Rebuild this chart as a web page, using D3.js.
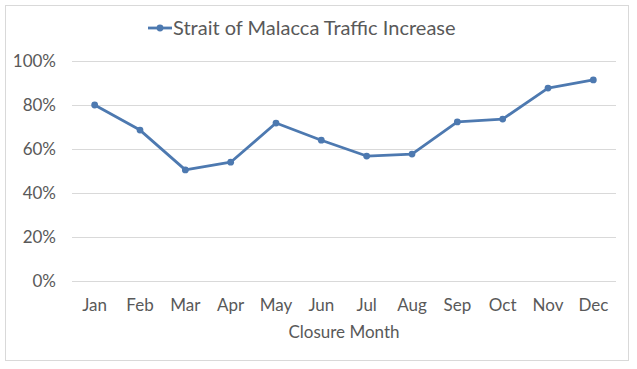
<!DOCTYPE html>
<html>
<head>
<meta charset="utf-8">
<script src="https://cdn.jsdelivr.net/npm/d3@7"></script>
<style>
  body { margin: 0; background: #fff; }
  text { font-family: Lato, "Open Sans", sans-serif; fill: #595959; }
</style>
</head>
<body>
<svg id="chart" width="637" height="369"></svg>
<script>
// data
const months = ['Jan', 'Feb', 'Mar', 'Apr', 'May', 'Jun', 'Jul', 'Aug', 'Sep', 'Oct', 'Nov', 'Dec'];
const traffic = [0.80, 0.686, 0.505, 0.54, 0.718, 0.64, 0.568, 0.577, 0.723, 0.736, 0.877, 0.914];
const yTicks = [0, 0.2, 0.4, 0.6, 0.8, 1.0];
const seriesName = 'Strait of Malacca Traffic Increase';
const xTitle = 'Closure Month';

const svg = d3.select('#chart');
const blue = '#4d79b0';

// outer frame
svg.append('rect')
  .attr('x', 5.5).attr('y', 5.5)
  .attr('width', 623).attr('height', 355)
  .attr('fill', '#fff')
  .attr('stroke', '#d9d9d9');

const x = d3.scaleBand().domain(months).range([72, 616]);
const y = d3.scaleLinear().domain([0, 1]).range([281, 61]);

// gridlines
svg.append('g')
  .selectAll('line')
  .data(yTicks)
  .enter()
  .append('line')
  .attr('x1', 72).attr('x2', 616)
  .attr('y1', function(d) { return Math.round(y(d)) + 0.5; })
  .attr('y2', function(d) { return Math.round(y(d)) + 0.5; })
  .attr('stroke', '#d9d9d9');

// y axis labels
const yAxis = svg.append('g')
  .attr('transform', 'translate(56,0)')
  .call(d3.axisLeft(y).tickValues(yTicks).tickFormat(d3.format('.0%')).tickSize(0).tickPadding(0));
yAxis.select('.domain').remove();
yAxis.selectAll('text').style('font-size', '17px').attr('fill', '#595959');

// x axis labels
const xAxis = svg.append('g')
  .attr('transform', 'translate(0,281)')
  .call(d3.axisBottom(x).tickSize(0).tickPadding(18));
xAxis.select('.domain').remove();
xAxis.selectAll('text').style('font-size', '17px').attr('fill', '#595959');

svg.append('text')
  .attr('x', 344).attr('y', 338)
  .attr('text-anchor', 'middle')
  .style('font-size', '17px')
  .text(xTitle);

// the line
const line = d3.line()
  .x(function(d, i) { return x(months[i]) + x.bandwidth() / 2; })
  .y(function(d) { return y(d); });

svg.append('path')
  .datum(traffic)
  .attr('d', line)
  .attr('fill', 'none')
  .attr('stroke', blue)
  .attr('stroke-width', 2.8)
  .attr('stroke-linejoin', 'round');

svg.append('g')
  .selectAll('circle')
  .data(traffic)
  .enter()
  .append('circle')
  .attr('cx', function(d, i) { return x(months[i]) + x.bandwidth() / 2; })
  .attr('cy', function(d) { return y(d); })
  .attr('r', 3.4)
  .attr('fill', blue);

// legend
const legend = svg.append('g');
legend.append('line')
  .attr('x1', 148).attr('x2', 172)
  .attr('y1', 28).attr('y2', 28)
  .attr('stroke', blue).attr('stroke-width', 2.8);
legend.append('circle')
  .attr('cx', 160).attr('cy', 28).attr('r', 3.4).attr('fill', blue);
legend.append('text')
  .attr('x', 173).attr('y', 34.5)
  .style('font-size', '20px')
  .text(seriesName);
</script>
</body>
</html>
